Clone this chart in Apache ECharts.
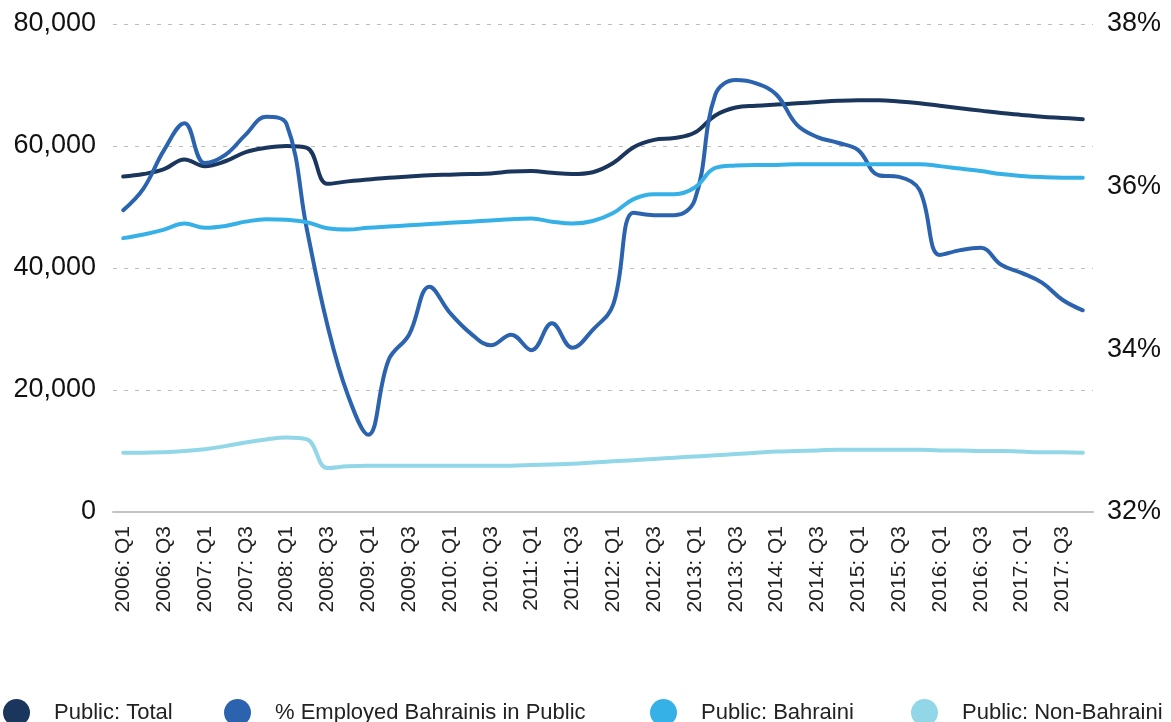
<!DOCTYPE html>
<html>
<head>
<meta charset="utf-8">
<script src="https://cdn.jsdelivr.net/npm/echarts@6/dist/echarts.min.js"></script>
<style>
  html, body { margin: 0; padding: 0; background: #fff; }
  #chart { width: 1171px; height: 722px; }
</style>
</head>
<body>
<div id="chart"></div>
<script>
// quarters 2006 Q1 .. 2017 Q4
const quarters = [
  '2006: Q1','2006: Q2','2006: Q3','2006: Q4',
  '2007: Q1','2007: Q2','2007: Q3','2007: Q4',
  '2008: Q1','2008: Q2','2008: Q3','2008: Q4',
  '2009: Q1','2009: Q2','2009: Q3','2009: Q4',
  '2010: Q1','2010: Q2','2010: Q3','2010: Q4',
  '2011: Q1','2011: Q2','2011: Q3','2011: Q4',
  '2012: Q1','2012: Q2','2012: Q3','2012: Q4',
  '2013: Q1','2013: Q2','2013: Q3','2013: Q4',
  '2014: Q1','2014: Q2','2014: Q3','2014: Q4',
  '2015: Q1','2015: Q2','2015: Q3','2015: Q4',
  '2016: Q1','2016: Q2','2016: Q3','2016: Q4',
  '2017: Q1','2017: Q2','2017: Q3','2017: Q4'
];

const publicTotal = [
  55000, 55400, 56200, 57800, 56700, 57500, 59000, 59700,
  60000, 59700, 53800, 54200, 54500, 54800, 55000, 55200,
  55300, 55400, 55500, 55800, 55900, 55600, 55400, 55700,
  57200, 59800, 61000, 61300, 62200, 65000, 66300, 66600,
  66800, 67000, 67200, 67400, 67500, 67500, 67300, 67000,
  66600, 66200, 65800, 65400, 65100, 64800, 64600, 64400
];

// right axis, percent
const pctBahrainisPublic = [
  35.71, 35.98, 36.45, 36.78, 36.29, 36.39, 36.64, 36.86,
  36.77, 35.47, 34.30, 33.44, 32.95, 33.87, 34.18, 34.77,
  34.45, 34.20, 34.05, 34.18, 33.99, 34.32, 34.02, 34.24,
  34.55, 35.68, 35.65, 35.65, 35.84, 37.13, 37.31, 37.27,
  37.13, 36.76, 36.61, 36.54, 36.45, 36.14, 36.12, 35.96,
  35.16, 35.22, 35.25, 35.04, 34.94, 34.82, 34.61, 34.48
];

const publicBahraini = [
  44900, 45500, 46300, 47300, 46600, 46900, 47600, 48000,
  47900, 47500, 46500, 46300, 46600, 46800, 47000, 47200,
  47400, 47600, 47800, 48000, 48100, 47600, 47300, 47700,
  49000, 51300, 52100, 52100, 53200, 56400, 56800, 56900,
  56900, 57000, 57000, 57000, 57000, 57000, 57000, 57000,
  56700, 56300, 55900, 55400, 55100, 54900, 54800, 54800
];

const publicNonBahraini = [
  9700, 9700, 9800, 10000, 10300, 10800, 11400, 11900,
  12200, 11900, 7200, 7500, 7600, 7600, 7600, 7600,
  7600, 7600, 7600, 7600, 7700, 7800, 7900, 8100,
  8300, 8500, 8700, 8900, 9100, 9300, 9500, 9700,
  9900, 10000, 10100, 10200, 10200, 10200, 10200, 10200,
  10100, 10100, 10000, 10000, 9900, 9800, 9800, 9700
];

const leftTicks = { min: 0, max: 80000, interval: 20000 };
const rightTicks = { min: 32, max: 38, interval: 2 };

const names = ['Public: Total', '% Employed Bahrainis in Public', 'Public: Bahraini', 'Public: Non-Bahraini'];
const colors = ['#1b365d', '#2b63ae', '#35b1e7', '#92d7e7'];

let myChart = echarts.init(document.getElementById('chart'));

const font = 'Liberation Sans, Arial, sans-serif';

// one legend per item so the spacing can follow the picture
const legendLefts = [3, 224, 650, 911];
const legends = names.map((n, i) => ({
  data: [n],
  left: legendLefts[i],
  top: 699,
  icon: 'circle',
  itemWidth: 27,
  itemHeight: 27,
  padding: 0,
  textStyle: {
    fontFamily: font,
    fontSize: 22,
    color: '#222',
    padding: [0, 0, 0, 19]
  }
}));

function line(i, data, yIdx) {
  return {
    name: names[i],
    type: 'line',
    yAxisIndex: yIdx,
    data: data,
    smooth: 0.4,
    showSymbol: false,
    symbol: 'none',
    lineStyle: { color: colors[i], width: 4, cap: 'round' },
    itemStyle: { color: colors[i] },
    z: 2 + i
  };
}

let option = {
  animation: false,
  color: colors,
  grid: { left: 113, right: 78, top: 24, bottom: 210 },
  legend: legends,
  xAxis: {
    type: 'category',
    data: quarters,
    boundaryGap: true,
    axisTick: { show: false },
    axisLine: { lineStyle: { color: '#c4c4c4', width: 2 } },
    axisLabel: {
      interval: 1,
      rotate: 90,
      margin: 14,
      fontFamily: font,
      fontSize: 21,
      color: '#222'
    }
  },
  yAxis: [
    {
      type: 'value',
      min: leftTicks.min,
      max: leftTicks.max,
      interval: leftTicks.interval,
      axisLine: { show: false },
      axisTick: { show: false },
      splitLine: { lineStyle: { color: '#bdbdbd', type: [4, 7], width: 1 } },
      axisLabel: {
        margin: 17,
        fontFamily: font,
        fontSize: 27,
        color: '#111',
        formatter: v => v.toLocaleString('en-US')
      }
    },
    {
      type: 'value',
      min: rightTicks.min,
      max: rightTicks.max,
      interval: rightTicks.interval,
      axisLine: { show: false },
      axisTick: { show: false },
      splitLine: { show: false },
      axisLabel: {
        margin: 14,
        fontFamily: font,
        fontSize: 27,
        color: '#111',
        formatter: '{value}%'
      }
    }
  ],
  series: [
    line(3, publicNonBahraini, 0),
    line(2, publicBahraini, 0),
    line(0, publicTotal, 0),
    line(1, pctBahrainisPublic, 1)
  ]
};
myChart.setOption(option);
</script>
</body>
</html>
